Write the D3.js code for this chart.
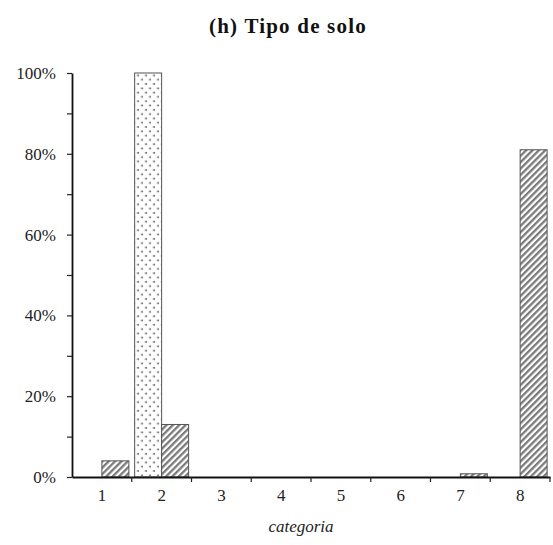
<!DOCTYPE html>
<html><head><meta charset="utf-8">
<script src="https://cdn.jsdelivr.net/npm/d3@7"></script>
<style>body{margin:0;background:#fff}svg{display:block}</style>
</head><body>
<script>
const categories = ["1","2","3","4","5","6","7","8"];
const seriesNames = ["pontilhado","hachurado"];
const seriesDotted = [0, 1.00, 0, 0, 0, 0, 0, 0];
const seriesHatched = [0.04, 0.13, 0, 0, 0, 0, 0.008, 0.81];
const yTicks = [0, 0.2, 0.4, 0.6, 0.8, 1.0];
const yMinorTicks = [0.1, 0.3, 0.5, 0.7, 0.9];
const title = "(h) Tipo de solo";
const xTitle = "categoria";

const W = 553, H = 545;
const FONT = "Liberation Serif";
const svg = d3.select("body").append("svg").attr("width", W).attr("height", H);
const defs = svg.append("defs");
const dots = defs.append("pattern").attr("id","dots").attr("patternUnits","userSpaceOnUse")
  .attr("width",8).attr("height",8.6);
dots.append("rect").attr("width",8).attr("height",8.6).attr("fill","#fff");
dots.append("rect").attr("x",1.5).attr("y",1.5).attr("width",1.6).attr("height",1.6).attr("fill","#444");
dots.append("rect").attr("x",5.5).attr("y",5.8).attr("width",1.6).attr("height",1.6).attr("fill","#444");
const hatch = defs.append("pattern").attr("id","hatch").attr("patternUnits","userSpaceOnUse")
  .attr("width",4.5).attr("height",4.5).attr("patternTransform","rotate(45)");
hatch.append("rect").attr("width",4.5).attr("height",4.5).attr("fill","#fff");
hatch.append("rect").attr("x",0).attr("y",0).attr("width",2.3).attr("height",4.5).attr("fill","#7a7a7a");

const x0 = d3.scaleBand().domain(categories).range([72, 550]).padding(0);
const x1 = d3.scaleBand().domain(seriesNames).range([0, x0.bandwidth()]).paddingInner(0).paddingOuter(0.107);
const y = d3.scaleLinear().domain([0, 1]).range([477, 73]);

const data = categories.map((c, i) => ({c, vals: [
  {s: seriesNames[0], v: seriesDotted[i], fill: "url(#dots)"},
  {s: seriesNames[1], v: seriesHatched[i], fill: "url(#hatch)"}]}));

const g = svg.append("g");
g.selectAll("g.grp").data(data).join("g").attr("class","grp")
  .attr("transform", d => `translate(${x0(d.c)},0)`)
  .selectAll("rect").data(d => d.vals.filter(e => e.v > 0)).join("rect")
  .attr("x", d => x1(d.s)).attr("width", x1.bandwidth())
  .attr("y", d => y(d.v)).attr("height", d => y(0) - y(d.v))
  .attr("fill", d => d.fill).attr("stroke", "#555").attr("stroke-width", 1);

// Y axis
const yAxis = svg.append("g").attr("transform", "translate(72,0)")
  .call(d3.axisLeft(y).tickValues(yTicks).tickFormat(d3.format(".0%")).tickSize(5).tickSizeOuter(0));
svg.append("g").attr("transform", "translate(72,0)")
  .call(d3.axisLeft(y).tickValues(yMinorTicks).tickFormat("").tickSize(5).tickSizeOuter(0))
  .select(".domain").remove();
yAxis.selectAll("text").attr("font-family",FONT).attr("font-size",17).attr("fill","#222").attr("dx",-8);

// X axis
const boundaries = d3.range(categories.length + 1).map(i => 72 + i * x0.step());
const xAxis = svg.append("g").attr("transform", `translate(0,${y(0)})`)
  .call(d3.axisBottom(x0).tickSize(0).tickPadding(12));
xAxis.selectAll("text").attr("font-family",FONT).attr("font-size",17).attr("fill","#222");
xAxis.selectAll(".tick line").remove();
xAxis.selectAll("line.bt").data(boundaries.slice(1)).join("line").attr("class","bt")
  .attr("x1", d => d).attr("x2", d => d).attr("y1", 0).attr("y2", 5).attr("stroke","#222").attr("stroke-width",1.2);

svg.selectAll(".domain").attr("stroke","#111").attr("stroke-width",1.8);
svg.selectAll(".tick line").attr("stroke","#222").attr("stroke-width",1.2);

svg.append("text").attr("x", 288).attr("y", 33).attr("text-anchor","middle")
  .attr("font-family",FONT).attr("font-weight","bold").attr("font-size",21).attr("letter-spacing",1.2)
  .attr("fill","#111").text(title);
svg.append("text").attr("x", 301).attr("y", 532).attr("text-anchor","middle")
  .attr("font-family",FONT).attr("font-style","italic").attr("font-size",17).attr("fill","#222").text(xTitle);
</script>
</body></html>
